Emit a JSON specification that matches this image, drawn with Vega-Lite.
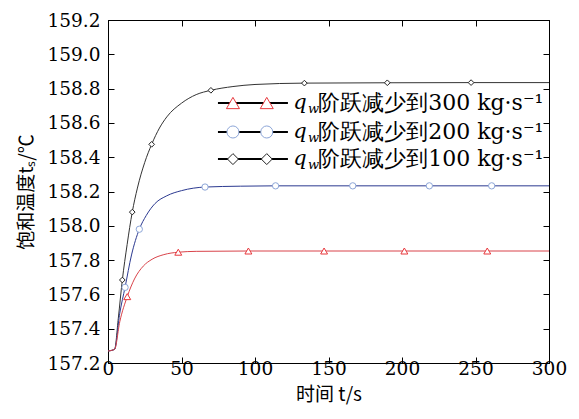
{
  "$schema": "https://vega.github.io/schema/vega-lite/v6.json",
  "width": 441,
  "height": 343,
  "autosize": "none",
  "padding": {"left": 108, "top": 20, "right": 30, "bottom": 56},
  "background": "white",
  "config": {
    "view": {"stroke": "black", "strokeWidth": 1},
    "axis": {
      "domainColor": "black",
      "tickColor": "black",
      "labelColor": "black",
      "titleColor": "black",
      "grid": false,
      "labelFlush": false,
      "labelFont": "DejaVu Serif",
      "labelFontSize": 18.5,
      "titleFontSize": 20,
      "titleFontWeight": "normal"
    }
  },
  "datasets": {
    "curves": [
      {"s": "100", "t": 0, "v": 157.27}, {"s": "100", "t": 4.5, "v": 157.28}, {"s": "100", "t": 7, "v": 157.46},
      {"s": "100", "t": 9.75, "v": 157.684}, {"s": "100", "t": 13, "v": 157.89}, {"s": "100", "t": 16.5, "v": 158.08},
      {"s": "100", "t": 20, "v": 158.22}, {"s": "100", "t": 25, "v": 158.37}, {"s": "100", "t": 29.7, "v": 158.475},
      {"s": "100", "t": 35, "v": 158.57}, {"s": "100", "t": 40, "v": 158.635}, {"s": "100", "t": 50, "v": 158.715},
      {"s": "100", "t": 60, "v": 158.765}, {"s": "100", "t": 70, "v": 158.79}, {"s": "100", "t": 85, "v": 158.812},
      {"s": "100", "t": 100, "v": 158.824}, {"s": "100", "t": 133.6, "v": 158.832}, {"s": "100", "t": 190, "v": 158.834},
      {"s": "100", "t": 247, "v": 158.835}, {"s": "100", "t": 300, "v": 158.835},
      {"s": "200", "t": 0, "v": 157.27}, {"s": "200", "t": 4.5, "v": 157.28}, {"s": "200", "t": 8, "v": 157.49},
      {"s": "200", "t": 11.6, "v": 157.641}, {"s": "200", "t": 16, "v": 157.83}, {"s": "200", "t": 21.3, "v": 157.98},
      {"s": "200", "t": 26, "v": 158.06}, {"s": "200", "t": 32, "v": 158.13}, {"s": "200", "t": 40, "v": 158.175},
      {"s": "200", "t": 50, "v": 158.205}, {"s": "200", "t": 66, "v": 158.226}, {"s": "200", "t": 90, "v": 158.231},
      {"s": "200", "t": 114, "v": 158.233}, {"s": "200", "t": 300, "v": 158.233},
      {"s": "300", "t": 0, "v": 157.27}, {"s": "300", "t": 4.5, "v": 157.28}, {"s": "300", "t": 8, "v": 157.44},
      {"s": "300", "t": 13.1, "v": 157.587}, {"s": "300", "t": 18, "v": 157.69}, {"s": "300", "t": 24, "v": 157.765},
      {"s": "300", "t": 30, "v": 157.805}, {"s": "300", "t": 38, "v": 157.832}, {"s": "300", "t": 47.8, "v": 157.846},
      {"s": "300", "t": 60, "v": 157.851}, {"s": "300", "t": 95.5, "v": 157.853}, {"s": "300", "t": 300, "v": 157.853}
    ],
    "markers": [
      {"s": "100", "t": 9.75, "v": 157.684}, {"s": "100", "t": 16.5, "v": 158.08}, {"s": "100", "t": 29.7, "v": 158.475},
      {"s": "100", "t": 70, "v": 158.79}, {"s": "100", "t": 133.6, "v": 158.832}, {"s": "100", "t": 190, "v": 158.834},
      {"s": "100", "t": 247, "v": 158.835},
      {"s": "200", "t": 11.6, "v": 157.641}, {"s": "200", "t": 21.3, "v": 157.98}, {"s": "200", "t": 66, "v": 158.226},
      {"s": "200", "t": 114, "v": 158.233}, {"s": "200", "t": 166.5, "v": 158.233}, {"s": "200", "t": 218.6, "v": 158.233},
      {"s": "200", "t": 261, "v": 158.233},
      {"s": "300", "t": 13.1, "v": 157.587}, {"s": "300", "t": 47.8, "v": 157.846}, {"s": "300", "t": 95.5, "v": 157.853},
      {"s": "300", "t": 147, "v": 157.853}, {"s": "300", "t": 201.6, "v": 157.853}, {"s": "300", "t": 258, "v": 157.853}
    ],
    "legend": [
      {"s": "300", "y": 158.716, "x1": 74.8, "x2": 122.4, "m1": 85, "m2": 108, "qx": 126, "wx": 136, "tx": 143, "label": "阶跃减少到300 kg·s⁻¹"},
      {"s": "200", "y": 158.547, "x1": 74.8, "x2": 122.4, "m1": 85, "m2": 108, "qx": 126, "wx": 136, "tx": 143, "label": "阶跃减少到200 kg·s⁻¹"},
      {"s": "100", "y": 158.389, "x1": 74.8, "x2": 122.4, "m1": 85, "m2": 108, "qx": 126, "wx": 136, "tx": 143, "label": "阶跃减少到100 kg·s⁻¹"}
    ]
  },
  "resolve": {"axis": {"x": "independent", "y": "independent"}, "scale": {"size": "independent"}},
  "layer": [
    {
      "data": {"name": "curves"},
      "mark": {"type": "line", "strokeWidth": 1, "interpolate": "monotone", "clip": true},
      "encoding": {
        "x": {"field": "t", "type": "quantitative",
          "scale": {"domain": [0, 300], "nice": false},
          "axis": {"orient": "bottom", "values": [0, 50, 100, 150, 200, 250, 300], "tickSize": -6, "labelPadding": 2, "title": "时间 t/s", "titlePadding": 8, "titleFont": "Noto Sans CJK SC", "titleFontSize": 19}},
        "y": {"field": "v", "type": "quantitative",
          "scale": {"domain": [157.2, 159.2], "nice": false, "zero": false},
          "axis": {"orient": "left", "values": [157.2, 157.4, 157.6, 157.8, 158.0, 158.2, 158.4, 158.6, 158.8, 159.0, 159.2], "format": ".1f", "tickSize": -6, "labelPadding": 14, "title": "饱和温度tₛ/℃", "titlePadding": 11, "titleFont": "Noto Sans CJK SC", "titleFontSize": 19}},
        "color": {"field": "s", "type": "nominal", "legend": null,
          "scale": {"domain": ["100", "200", "300"], "range": ["#333333", "#2b3990", "#d9434a"]}},
        "detail": {"field": "s"}
      }
    },
    {
      "data": {"name": "markers"},
      "mark": {"type": "point", "filled": true, "fill": "white", "strokeWidth": 1, "opacity": 1},
      "encoding": {
        "x": {"field": "t", "type": "quantitative",
          "axis": {"orient": "top", "values": [0, 50, 100, 150, 200, 250, 300], "tickSize": -6, "labels": false, "title": null}},
        "y": {"field": "v", "type": "quantitative",
          "axis": {"orient": "right", "values": [157.2, 157.4, 157.6, 157.8, 158.0, 158.2, 158.4, 158.6, 158.8, 159.0, 159.2], "tickSize": -6, "labels": false, "title": null}},
        "shape": {"field": "s", "type": "nominal", "legend": null,
          "scale": {"domain": ["100", "200", "300"], "range": ["diamond", "circle", "triangle-up"]}},
        "stroke": {"field": "s", "type": "nominal", "legend": null,
          "scale": {"domain": ["100", "200", "300"], "range": ["#222222", "#8da6d8", "#e8383d"]}},
        "size": {"field": "s", "type": "nominal", "legend": null,
          "scale": {"domain": ["100", "200", "300"], "range": [32, 48, 45]}}
      }
    },
    {
      "data": {"name": "legend"},
      "mark": {"type": "rule", "color": "black", "strokeWidth": 2},
      "encoding": {
        "x": {"field": "x1", "type": "quantitative", "axis": null},
        "x2": {"field": "x2"},
        "y": {"field": "y", "type": "quantitative", "axis": null}
      }
    },
    {
      "data": {"name": "legend"},
      "transform": [{"fold": ["m1", "m2"], "as": ["k", "mx"]}],
      "mark": {"type": "point", "filled": true, "fill": "white", "strokeWidth": 1, "opacity": 1},
      "encoding": {
        "x": {"field": "mx", "type": "quantitative", "axis": null},
        "y": {"field": "y", "type": "quantitative", "axis": null},
        "shape": {"field": "s", "type": "nominal", "legend": null},
        "stroke": {"field": "s", "type": "nominal", "legend": null},
        "size": {"field": "s", "type": "nominal", "legend": null, "scale": {"domain": ["100", "200", "300"], "range": [120, 170, 170]}}
      }
    },
    {
      "data": {"name": "legend"},
      "mark": {"type": "text", "text": "q", "font": "DejaVu Serif", "fontStyle": "italic", "fontSize": 21, "align": "left", "baseline": "middle", "color": "black"},
      "encoding": {
        "x": {"field": "qx", "type": "quantitative", "axis": null},
        "y": {"field": "y", "type": "quantitative", "axis": null}
      }
    },
    {
      "data": {"name": "legend"},
      "mark": {"type": "text", "text": "w", "font": "DejaVu Serif", "fontStyle": "italic", "fontSize": 13, "align": "left", "baseline": "middle", "dy": 6, "color": "black"},
      "encoding": {
        "x": {"field": "wx", "type": "quantitative", "axis": null},
        "y": {"field": "y", "type": "quantitative", "axis": null}
      }
    },
    {
      "data": {"name": "legend"},
      "mark": {"type": "text", "font": "DejaVu Serif", "fontSize": 22, "align": "left", "baseline": "middle", "color": "black"},
      "encoding": {
        "x": {"field": "tx", "type": "quantitative", "axis": null},
        "y": {"field": "y", "type": "quantitative", "axis": null},
        "text": {"field": "label"}
      }
    }
  ]
}
